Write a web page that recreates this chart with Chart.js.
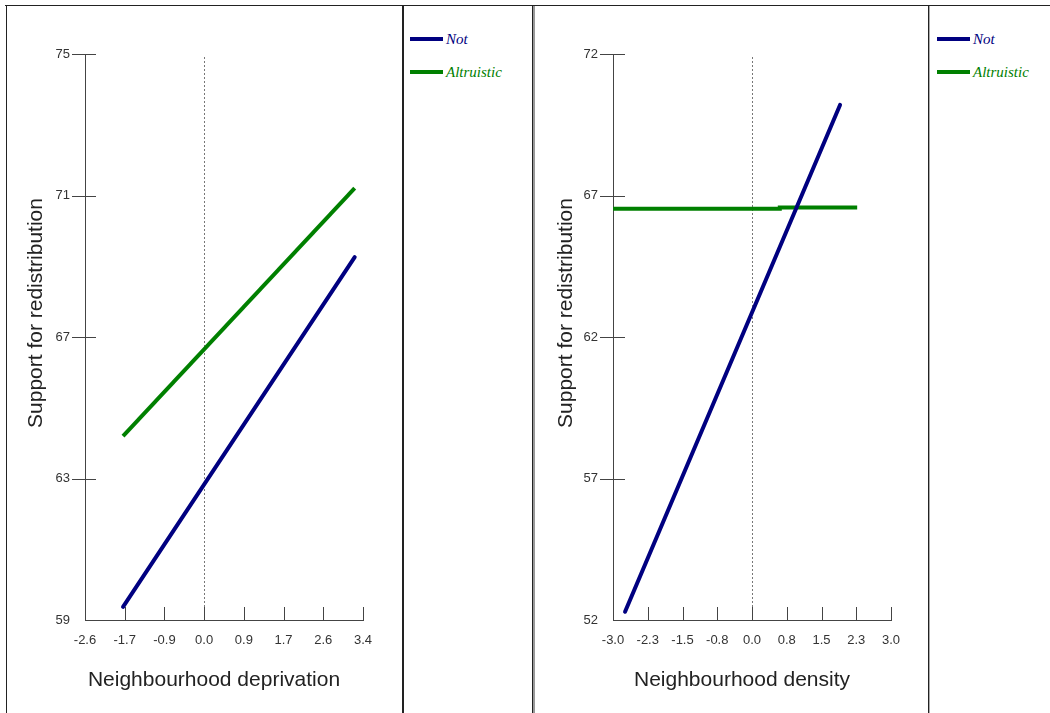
<!DOCTYPE html>
<html>
<head>
<meta charset="utf-8">
<script src="https://cdn.jsdelivr.net/npm/chart.js@4.4.1/dist/chart.umd.min.js"></script>
<style>
  html, body { margin: 0; padding: 0; background: #fff; }
  body { width: 1050px; height: 713px; position: relative; overflow: hidden; }
  canvas { position: absolute; top: 0; }
  .rule { position: absolute; background: #222; }
  .key { position: absolute; height: 18px; display: flex; align-items: center; white-space: nowrap;
         font: italic 15px "Liberation Serif", "Times New Roman", serif; }
  .key .swatch { display: inline-block; width: 33px; height: 4px; margin-right: 3px; }
</style>
</head>
<body>

<canvas id="depchart" width="400" height="713" style="left:0"></canvas>
<canvas id="denschart" width="393" height="713" style="left:535px"></canvas>

<!-- frame -->
<div class="rule" style="left:5px;top:5px;width:1045px;height:1px"></div>
<div class="rule" style="left:6px;top:5px;width:1px;height:708px"></div>
<div class="rule" style="left:402px;top:5px;width:2px;height:708px"></div>
<div class="rule" style="left:532px;top:5px;width:1px;height:708px"></div>
<div class="rule" style="left:533px;top:6px;width:2px;height:707px;background:#999"></div>
<div class="rule" style="left:928px;top:5px;width:1px;height:708px"></div>
<div class="rule" style="left:929px;top:6px;width:1px;height:707px;background:#aaa"></div>

<!-- legends -->
<div class="key" style="left:410px;top:30px;color:#000080"><span class="swatch" style="background:#000080"></span>Not</div>
<div class="key" style="left:410px;top:63px;color:#008000"><span class="swatch" style="background:#008000"></span>Altruistic</div>
<div class="key" style="left:937px;top:30px;color:#000080"><span class="swatch" style="background:#000080"></span>Not</div>
<div class="key" style="left:937px;top:63px;color:#008000"><span class="swatch" style="background:#008000"></span>Altruistic</div>

<script>
const NAVY = "#000080";
const GREEN = "#008000";

// Neighbourhood deprivation panel
const depTickVals = [-2.571, -1.714, -0.857, 0, 0.857, 1.714, 2.571, 3.429];
const depTickLabels = ["-2.6", "-1.7", "-0.9", "0.0", "0.9", "1.7", "2.6", "3.4"];
const depYTicks = [59, 63, 67, 71, 75];
const depNotX = [-1.75, 3.25];
const depNotY = [59.37, 69.26];
const depAltX = [-1.75, 3.25];
const depAltY = [64.2, 71.21];

// Neighbourhood density panel
const densTickVals = [-3, -2.25, -1.5, -0.75, 0, 0.75, 1.5, 2.25, 3];
const densTickLabels = ["-3.0", "-2.3", "-1.5", "-0.8", "0.0", "0.8", "1.5", "2.3", "3.0"];
const densYTicks = [52, 57, 62, 67, 72];
const densNotX = [-2.74, 1.9];
const densNotY = [52.29, 70.2];
const densAltX = [-3.0, 0.6, 0.6, 2.27];
const densAltY = [66.53, 66.53, 66.58, 66.58];

const yTitle = "Support for redistribution";
const titleFont = "21px 'Liberation Sans', Arial, sans-serif";

function toPoints(xs, ys) {
    return xs.map((x, i) => ({ x: x, y: ys[i] }));
}

// tick marks crossing the axes, dotted line at zero, axis titles
const axisMarks = {
    id: "axisMarks",
    beforeDatasetsDraw(chart) {
        const { ctx, chartArea: a, scales: { x } } = chart;
        const zx = Math.round(x.getPixelForValue(0)) + 0.5;
        ctx.save();
        ctx.strokeStyle = "#777";
        ctx.lineWidth = 1;
        ctx.setLineDash([2, 2]);
        ctx.beginPath();
        ctx.moveTo(zx, a.top + 3);
        ctx.lineTo(zx, a.bottom);
        ctx.stroke();
        ctx.restore();
    },
    afterDraw(chart, args, opts) {
        const { ctx, chartArea: a, scales: { x, y } } = chart;
        ctx.save();
        ctx.strokeStyle = "#444";
        ctx.lineWidth = 1;
        ctx.beginPath();
        y.ticks.forEach((t, i) => {
            const py = Math.round(y.getPixelForValue(t.value)) + 0.5;
            const out = i === 0 ? 0 : opts.outer;
            ctx.moveTo(a.left - out, py);
            ctx.lineTo(a.left + opts.inner, py);
        });
        x.ticks.forEach(t => {
            const px = Math.round(x.getPixelForValue(t.value)) + 0.5;
            ctx.moveTo(px, a.bottom);
            ctx.lineTo(px, a.bottom - 13);
        });
        ctx.stroke();

        // titles
        ctx.fillStyle = "#222";
        ctx.font = titleFont;
        ctx.textAlign = "center";
        ctx.textBaseline = "middle";
        ctx.fillText(opts.xTitle, (a.left + a.right) / 2 + opts.xShift, 680);
        ctx.translate(opts.yTitleX, 313);
        ctx.rotate(-Math.PI / 2);
        ctx.fillText(yTitle, 0, 0);
        ctx.restore();
    }
};

function makePanel(id, cfg) {
    return new Chart(document.getElementById(id), {
        type: "line",
        data: {
            datasets: [
                {
                    label: "Not",
                    data: toPoints(cfg.notX, cfg.notY),
                    borderColor: NAVY,
                    borderWidth: 4,
                    pointRadius: 0,
                    borderCapStyle: "round"
                },
                {
                    label: "Altruistic",
                    data: toPoints(cfg.altX, cfg.altY),
                    borderColor: GREEN,
                    borderWidth: 4,
                    pointRadius: 0
                }
            ]
        },
        options: {
            responsive: false,
            animation: false,
            layout: { padding: { top: 54, right: cfg.padRight, bottom: 0, left: 0 } },
            plugins: {
                legend: { display: false },
                tooltip: { enabled: false },
                axisMarks: {
                    outer: 13, inner: cfg.inner,
                    xTitle: cfg.xTitle, xShift: -10, yTitleX: cfg.yTitleX
                }
            },
            scales: {
                x: {
                    type: "linear",
                    min: cfg.xTicks[0],
                    max: cfg.xTicks[cfg.xTicks.length - 1],
                    afterBuildTicks: s => { s.ticks = cfg.xTicks.map(v => ({ value: v })); },
                    afterFit: s => { s.height = 93; },
                    grid: { display: false, drawTicks: false },
                    border: { color: "#444" },
                    ticks: {
                        padding: 13,
                        color: "#333",
                        font: { family: "'Liberation Sans', Arial", size: 13 },
                        maxRotation: 0,
                        autoSkip: false,
                        callback: (v, i) => cfg.xLabels[i]
                    }
                },
                y: {
                    min: cfg.yTicks[0],
                    max: cfg.yTicks[cfg.yTicks.length - 1],
                    afterBuildTicks: s => { s.ticks = cfg.yTicks.map(v => ({ value: v })); },
                    afterFit: s => { s.width = cfg.yWidth; },
                    grid: { display: false, drawTicks: false },
                    border: { color: "#444" },
                    ticks: {
                        padding: 15,
                        color: "#333",
                        font: { family: "'Liberation Sans', Arial", size: 13 },
                        autoSkip: false
                    }
                }
            }
        },
        plugins: [axisMarks]
    });
}

makePanel("depchart", {
    notX: depNotX, notY: depNotY, altX: depAltX, altY: depAltY,
    xTicks: depTickVals, xLabels: depTickLabels, yTicks: depYTicks,
    xTitle: "Neighbourhood deprivation",
    yWidth: 85, padRight: 37, inner: 11, yTitleX: 36
});

makePanel("denschart", {
    notX: densNotX, notY: densNotY, altX: densAltX, altY: densAltY,
    xTicks: densTickVals, xLabels: densTickLabels, yTicks: densYTicks,
    xTitle: "Neighbourhood density",
    yWidth: 78, padRight: 37, inner: 12, yTitleX: 31
});
</script>
</body>
</html>
